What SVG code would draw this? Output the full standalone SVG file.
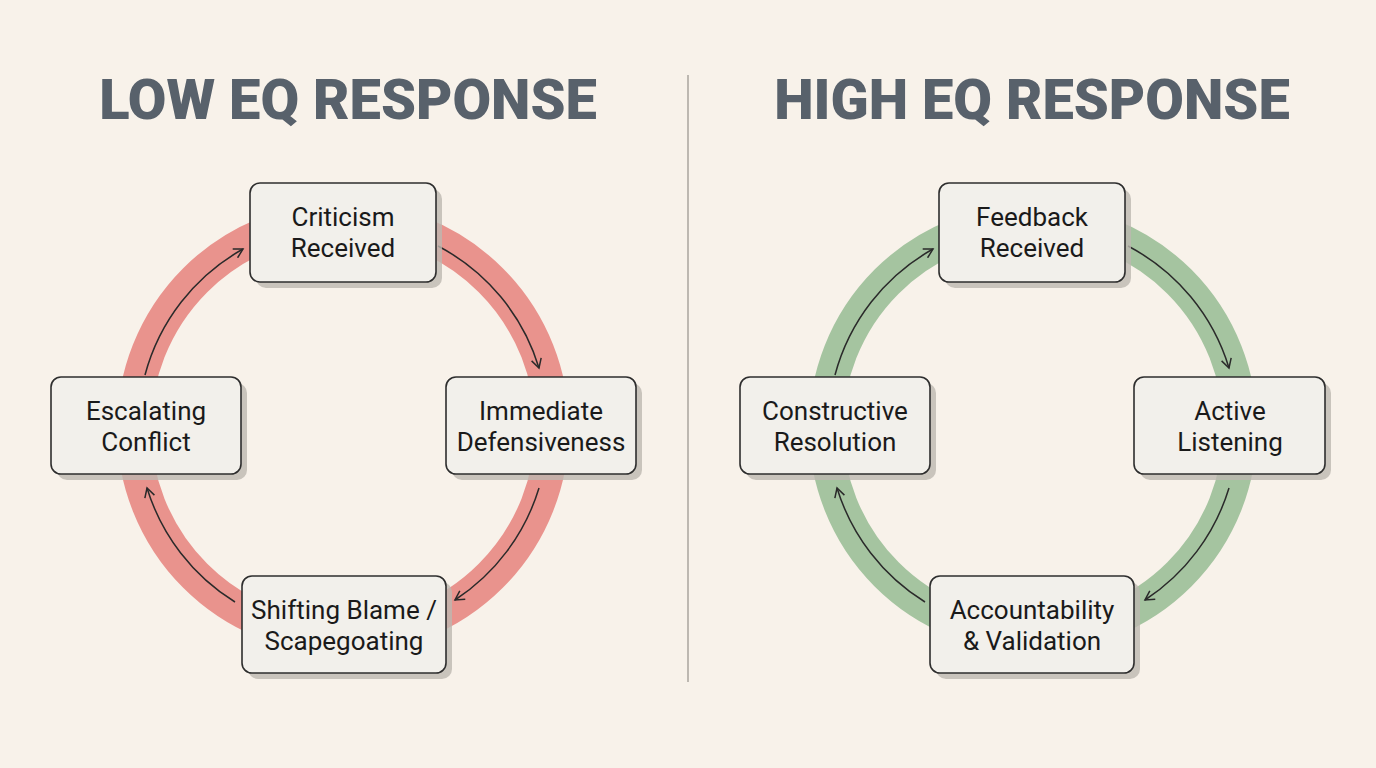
<svg xmlns="http://www.w3.org/2000/svg" width="1376" height="768" viewBox="0 0 1376 768">
<style>
.t{font-family:Roboto,"Liberation Sans",sans-serif;font-weight:900;font-size:56px;fill:#58616b;text-anchor:middle}
.b{fill:#f2f0eb;stroke:#2e2e2e;stroke-width:1.6}
.s{fill:#bdb8b0;opacity:.8}
.l{font-family:Roboto,"Liberation Sans",sans-serif;font-size:26px;fill:#1a1a1a;text-anchor:middle}
.a{fill:none;stroke:#2a2a2a;stroke-width:1.5;marker-end:url(#m)}
</style>
<defs><marker id="m" viewBox="0 0 12 12" refX="10" refY="6" markerWidth="12" markerHeight="12" markerUnits="userSpaceOnUse" orient="auto"><path d="M1 1 L10 6 L1 11" fill="none" stroke="#2a2a2a" stroke-width="1.5"/></marker></defs>
<rect width="1376" height="768" fill="#f8f2ea"/>
<line x1="688" y1="75" x2="688" y2="682" stroke="#aaa59e" stroke-width="1.5"/>
<text class="t" x="348" y="119">LOW EQ RESPONSE</text>
<text class="t" x="1032" y="119">HIGH EQ RESPONSE</text>
<circle cx="343" cy="428" r="209" fill="none" stroke="#e9938d" stroke-width="34"/>
<circle cx="1033" cy="428" r="207" fill="none" stroke="#a5c4a0" stroke-width="34"/>
<g id="connectors">
<path class="a" d="M145 375 A205 205 0 0 1 243 249"/>
<path class="a" d="M438 246 A205 205 0 0 1 539 368"/>
<path class="a" d="M539 488 A205 205 0 0 1 455 600"/>
<path class="a" d="M235 602 A205 205 0 0 1 147 488"/>
<path class="a" d="M835 375 A205 205 0 0 1 933 249"/>
<path class="a" d="M1128 246 A205 205 0 0 1 1229 368"/>
<path class="a" d="M1229 488 A205 205 0 0 1 1145 600"/>
<path class="a" d="M925 602 A205 205 0 0 1 837 488"/>
</g>
<g id="n1"><rect class="s" x="256" y="189" width="186" height="99" rx="10"/><rect class="b" x="250" y="183" width="186" height="99" rx="10"/><text class="l" x="343" y="226">Criticism</text><text class="l" x="343" y="257">Received</text></g>
<g id="n2"><rect class="s" x="452" y="383" width="190" height="97" rx="10"/><rect class="b" x="446" y="377" width="190" height="97" rx="10"/><text class="l" x="541" y="420">Immediate</text><text class="l" x="541" y="451">Defensiveness</text></g>
<g id="n3"><rect class="s" x="248" y="582" width="204" height="97" rx="10"/><rect class="b" x="242" y="576" width="204" height="97" rx="10"/><text class="l" x="344" y="619">Shifting Blame /</text><text class="l" x="344" y="650">Scapegoating</text></g>
<g id="n4"><rect class="s" x="57" y="383" width="190" height="97" rx="10"/><rect class="b" x="51" y="377" width="190" height="97" rx="10"/><text class="l" x="146" y="420">Escalating</text><text class="l" x="146" y="451">Conflict</text></g>
<g id="n5"><rect class="s" x="945" y="189" width="186" height="99" rx="10"/><rect class="b" x="939" y="183" width="186" height="99" rx="10"/><text class="l" x="1032" y="226">Feedback</text><text class="l" x="1032" y="257">Received</text></g>
<g id="n6"><rect class="s" x="1140" y="383" width="191" height="97" rx="10"/><rect class="b" x="1134" y="377" width="191" height="97" rx="10"/><text class="l" x="1230" y="420">Active</text><text class="l" x="1230" y="451">Listening</text></g>
<g id="n7"><rect class="s" x="936" y="582" width="204" height="97" rx="10"/><rect class="b" x="930" y="576" width="204" height="97" rx="10"/><text class="l" x="1032" y="619">Accountability</text><text class="l" x="1032" y="650">&amp; Validation</text></g>
<g id="n8"><rect class="s" x="746" y="383" width="190" height="97" rx="10"/><rect class="b" x="740" y="377" width="190" height="97" rx="10"/><text class="l" x="835" y="420">Constructive</text><text class="l" x="835" y="451">Resolution</text></g>
</svg>
